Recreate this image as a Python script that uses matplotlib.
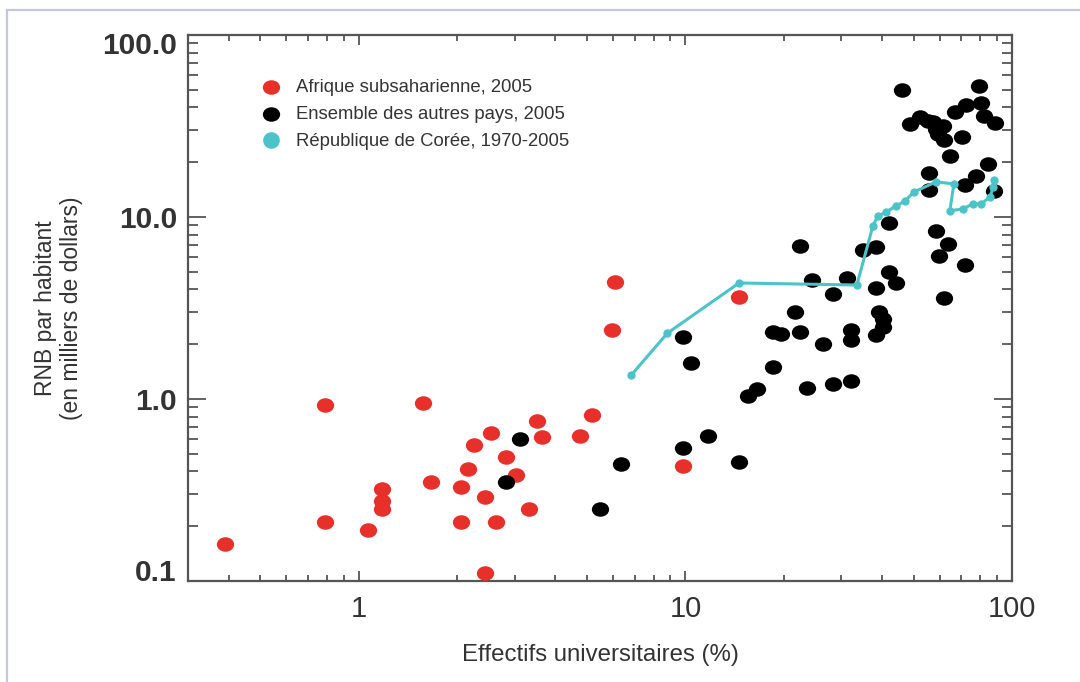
import matplotlib
matplotlib.use("Agg")
import matplotlib.pyplot as plt
import numpy as np
from matplotlib.path import Path
from matplotlib.lines import Line2D
from matplotlib.transforms import ScaledTranslation
from matplotlib.ticker import FixedLocator, FixedFormatter, NullFormatter

# ---------------- data ----------------
africa_x = [0.39, 0.787, 0.79, 1.07, 1.18, 1.18, 1.18, 1.57, 1.66, 2.06, 2.06, 2.16,
            2.25, 2.54, 2.44, 2.44, 2.83, 3.03, 2.63, 3.32, 3.52, 3.64, 4.77, 5.19,
            5.97, 6.1, 14.6, 9.8]
africa_y = [0.16, 0.93, 0.21, 0.19, 0.32, 0.275, 0.25, 0.95, 0.35, 0.33, 0.21, 0.41,
            0.56, 0.65, 0.29, 0.11, 0.48, 0.38, 0.21, 0.25, 0.76, 0.62, 0.63, 0.82,
            2.39, 4.4, 3.63, 0.43]

others_x = [3.12, 2.83, 6.37, 5.49, 9.8, 11.7, 14.6, 9.8, 10.4, 15.6, 16.6, 18.6,
            18.5, 19.6, 22.5, 21.7, 23.5, 26.3, 28.3, 28.3, 24.4, 31.2, 32.1, 32.1,
            32.1, 38.3, 39.1, 40.2, 40.2, 38.3, 42.0, 44.0, 59.7, 72.0, 62.0, 46.0,
            79.0, 48.7, 52.2, 55.3, 57.3, 58.5, 61.4, 59.3, 61.8, 66.9, 72.3, 80.4,
            82.0, 88.7, 70.3, 64.5, 55.6, 55.6, 84.4, 77.6, 71.8, 88.0, 42.0, 58.5,
            63.6, 22.5, 34.9, 38.3]
others_y = [0.60, 0.35, 0.44, 0.25, 0.54, 0.63, 0.45, 2.19, 1.58, 1.04, 1.13, 1.5,
            2.33, 2.28, 2.33, 3.0, 1.15, 2.0, 1.21, 3.78, 4.5, 4.62, 2.39, 2.11,
            1.26, 4.07, 3.0, 2.75, 2.49, 2.25, 4.99, 4.34, 6.1, 5.45, 3.59, 49.9,
            52.5, 32.4, 35.4, 33.7, 33.3, 30.5, 31.6, 28.6, 26.5, 37.7, 41.2, 42.3,
            35.9, 32.8, 27.5, 21.6, 17.4, 14.1, 19.6, 16.8, 15.0, 13.9, 9.27, 8.38,
            7.1, 6.93, 6.59, 6.84]

korea_x = [6.83, 8.81, 14.6, 33.5, 37.5, 38.8, 41.0, 44.1, 46.9, 50.0, 58.5, 66.4,
           64.5, 70.8, 75.9, 80.4, 85.7, 87.6, 88.1]
korea_y = [1.355, 2.30, 4.34, 4.23, 8.93, 10.1, 10.6, 11.5, 12.2, 13.7, 15.6, 15.2,
           10.8, 11.1, 11.8, 11.8, 12.9, 14.6, 16.0]

labels = ["Afrique subsaharienne, 2005", "Ensemble des autres pays, 2005",
          "République de Corée, 1970-2005"]
x_ticks = [1, 10, 100]
x_ticklabels = ["1", "10", "100"]
y_ticks = [0.1, 1, 10, 100]
y_ticklabels = ["0.1", "1.0", "10.0", "100.0"]
xlabel = "Effectifs universitaires (%)"
ylabel = "RNB par habitant\n(en milliers de dollars)"

# ---------------- style ----------------
RED = "#e8302a"
BLACK = "#000000"
CYAN = "#4cc3c9"
AXC = "#555555"
TXT = "#333333"

plt.rcParams['font.family'] = ['Liberation Sans', 'DejaVu Sans']

W, H = 1080, 682
fig = plt.figure(figsize=(W / 100, H / 100), dpi=100)
L, R, T, B = 188, 1012, 35, 581
ax = fig.add_axes([L / W, 1 - B / H, (R - L) / W, (B - T) / H])

# elliptical marker (slightly wider than tall)
circ = Path.unit_circle()
ell = Path(circ.vertices * np.array([1.0, 0.84]), circ.codes)

MS = 155
ax.scatter(africa_x, africa_y, s=MS, marker=ell, color=RED, linewidths=0,
           zorder=3, label=labels[0])
ax.scatter(others_x, others_y, s=MS, marker=ell, color=BLACK, linewidths=0,
           zorder=4, label=labels[1])
ax.plot(korea_x, korea_y, color=CYAN, lw=2.2, marker='o', ms=6, mew=0,
        zorder=5, label=labels[2])

ax.set_xscale('log')
ax.set_yscale('log')
ax.set_xlim(0.3, 100)
ax.set_ylim(0.1, 100)

for sp in ax.spines.values():
    sp.set_color(AXC)
    sp.set_linewidth(1.6)

ax.xaxis.set_major_locator(FixedLocator(x_ticks))
ax.xaxis.set_major_formatter(FixedFormatter(x_ticklabels))
ax.xaxis.set_minor_locator(FixedLocator(
    [v * d for d in (0.1, 1, 10) for v in range(2, 10) if 0.3 < v * d < 100]))
ax.xaxis.set_minor_formatter(NullFormatter())
ax.yaxis.set_major_locator(FixedLocator(y_ticks))
ax.yaxis.set_major_formatter(FixedFormatter(y_ticklabels))
ax.yaxis.set_minor_locator(FixedLocator(
    [v * d for d in (0.1, 1, 10) for v in range(2, 10)]))
ax.yaxis.set_minor_formatter(NullFormatter())

ax.tick_params(axis='both', which='both', direction='in', top=True, right=True,
               color=AXC, width=1.3)
ax.tick_params(axis='x', which='major', length=7, pad=10, labelsize=21,
               labelcolor=TXT)
ax.tick_params(axis='x', which='minor', length=4)
ax.tick_params(axis='y', which='major', length=13, pad=8, labelsize=21.5,
               labelcolor=TXT)
ax.tick_params(axis='y', which='minor', length=7)
for t in ax.get_yticklabels():
    t.set_fontweight('bold')
ylabs = ax.get_yticklabels()
ylabs[0].set_va('baseline')
ylabs[-1].set_va('top')
ylabs[-1].set_transform(ylabs[-1].get_transform()
                        + ScaledTranslation(0, 3 / 100, fig.dpi_scale_trans))

ax.set_xlabel(xlabel, fontsize=17.3, color=TXT, labelpad=15)
ax.set_ylabel(ylabel, fontsize=16.5, color=TXT, labelpad=14, linespacing=1.15)

leg = ax.legend(loc='upper left', bbox_to_anchor=(0.080, 0.933), frameon=False,
                fontsize=13.3, handletextpad=0.9, labelspacing=0.55,
                borderaxespad=0, handlelength=1.0)
for txt in leg.get_texts():
    txt.set_color(TXT)
hs = leg.legend_handles
hs[2].set_linestyle('None')
hs[2].set_markersize(12)
for h in hs[:2]:
    h.set_sizes([MS])

# light frame around the figure
bc = "#c6c6e0"
fig.add_artist(Line2D([7 / W, 1], [1 - 10 / H, 1 - 10 / H], color=bc, lw=1.6,
                      transform=fig.transFigure))
fig.add_artist(Line2D([7 / W, 7 / W], [0, 1 - 10 / H], color=bc, lw=1.6,
                      transform=fig.transFigure))

fig.savefig("out.png", dpi=100)
